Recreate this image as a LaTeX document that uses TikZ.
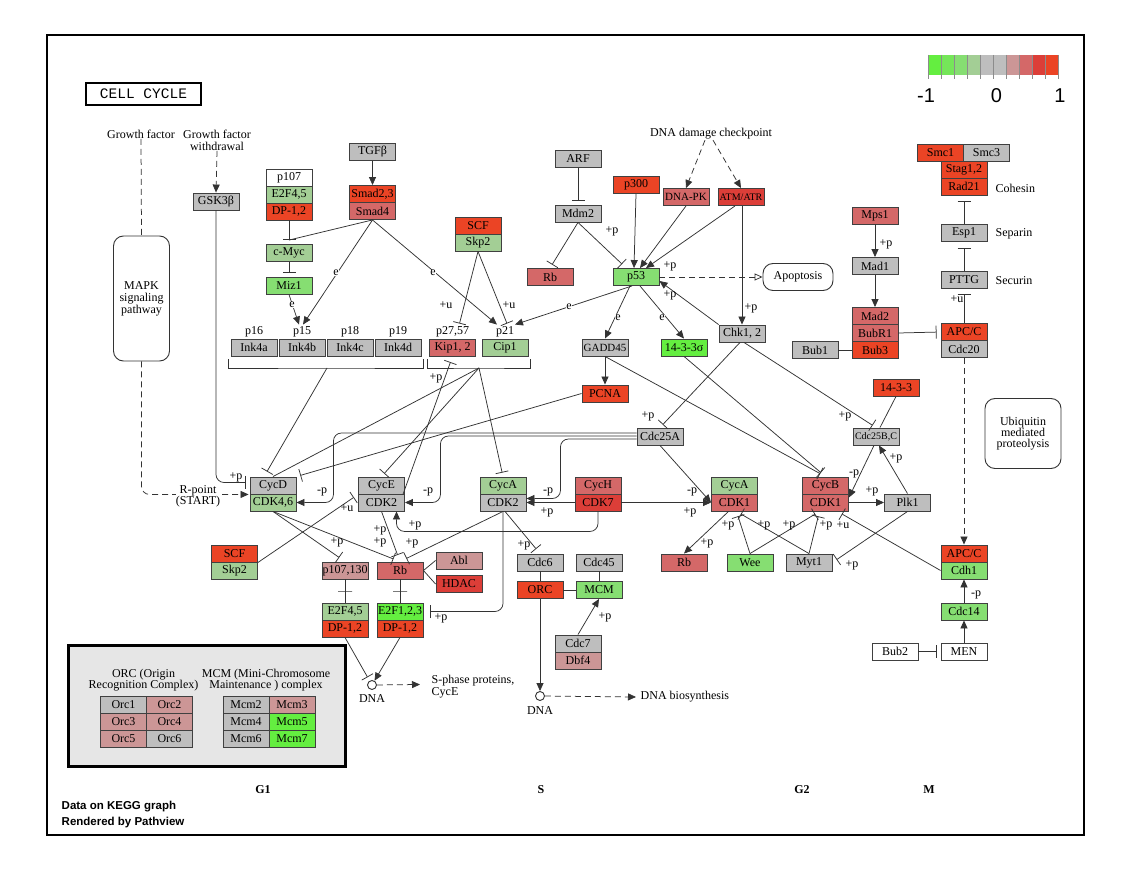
\documentclass[tikz,border=0pt]{standalone}
\usepackage{fontspec}
\setmainfont{Liberation Serif}
\setsansfont{Liberation Sans}
\setmonofont{Liberation Mono}
\usepackage{tikz}
\usetikzlibrary{arrows.meta,calc,positioning}
\definecolor{UpHigh}{RGB}{235,68,37}
\definecolor{UpMidB}{RGB}{220,62,56}
\definecolor{UpMid}{RGB}{212,104,104}
\definecolor{UpLow}{RGB}{204,150,150}
\definecolor{NoChg}{RGB}{190,190,190}
\definecolor{DnLow}{RGB}{163,206,149}
\definecolor{DnMid}{RGB}{134,222,114}
\definecolor{DnHighB}{RGB}{117,230,89}
\definecolor{DnHigh}{RGB}{100,238,64}
\definecolor{KeyGray}{RGB}{230,230,230}
\newcommand{\keggfont}{\fontsize{12}{12}\selectfont}
\tikzset{
  gene/.style={draw=black!75, line width=0.9pt, fill=#1, minimum width=46pt,
    minimum height=17pt, inner sep=0pt, font=\keggfont},
  gsq/.style={gene=#1, font=\fontsize{11}{11}\selectfont},
  gsqq/.style={gene=#1, font=\fontsize{10}{10}\selectfont},
  txt/.style={inner sep=0.5pt, font=\keggfont},
  elbl/.style={fill=white, inner sep=0.3pt, font=\keggfont},
  conn/.style={draw=black!80, line width=0.75pt},
  act/.style={conn, -{Triangle[length=8pt,width=7pt]}},
  inh/.style={conn, -{Bar[width=13pt]}, shorten >=4pt},
  inhx/.style={conn, -{Bar[width=13pt]}},
  bind/.style={conn},
  indir/.style={conn, dash pattern=on 6pt off 4pt},
  tbar/.style={draw=black!80, line width=0.75pt, minimum width=14pt,
    minimum height=0pt, inner sep=0pt, outer sep=0pt},
  dna/.style={circle, draw=black!80, line width=0.9pt, fill=white,
    minimum size=9pt, inner sep=0pt},
  pathbox/.style={draw=black!80, line width=0.9pt, rounded corners=10pt,
    align=center, font=\fontsize{12}{12}\selectfont}
}

\begin{document}
\begin{tikzpicture}[x=1pt,y=-1pt]
\fill[white] (0,0) rectangle (1136,874);
\useasboundingbox (0,0) rectangle (1136,874);
\draw[line width=1.2pt] (47,35) rectangle (1084,835);

% title and colour key
\node[draw, line width=2.6pt, minimum width=115pt, minimum height=22pt, inner sep=0pt,
  font=\ttfamily\fontsize{14.5}{14.5}\selectfont] (title) at (143.5,94) {CELL CYCLE};
\foreach \c [count=\i from 0] in {DnHigh,DnHighB,DnMid,DnLow,NoChg,NoChg,UpLow,UpMid,UpMidB,UpHigh}
  \fill[\c] (928+13*\i,55) rectangle (941+13*\i,75);
\foreach \i in {0,...,10}
  \draw[black!45, line width=0.6pt] (928+13*\i,55) -- (928+13*\i,79);
\node[font=\sffamily\fontsize{20}{20}\selectfont] (keymin) at (926,96) {-1};
\node[font=\sffamily\fontsize{20}{20}\selectfont] (keymid) at (996.5,96) {0};
\node[font=\sffamily\fontsize{20}{20}\selectfont] (keymax) at (1060,96) {1};

% upstream signals
\node[txt] (gf) at (141,134) {Growth factor};
\node[txt, align=center, font=\fontsize{12}{12}\selectfont] (gfw) at (217,140) {Growth factor\\withdrawal};
\node[txt] (ddc) at (711,134) {DNA damage checkpoint};
\node[pathbox, minimum width=56pt, minimum height=125pt] (mapk) at (141.5,298.5) {MAPK\\signaling\\pathway};
\node[pathbox, minimum width=70pt, minimum height=27pt] (apop) at (798,277) {Apoptosis};
\node[pathbox, minimum width=76pt, minimum height=70pt, font=\fontsize{12}{11}\selectfont] (ubiq) at (1023,433.5) {Ubiquitin\\mediated\\proteolysis};

% G1 regulators
\node[gene=NoChg] (gsk3b) at (216,201.5) {GSK3β};
\node[gene=white] (p107) at (289,177.5) {p107};
\node[gene=DnLow] (e2f45a) at (289,194.5) {E2F4,5};
\node[gene=UpHigh] (dp12a) at (289,211.5) {DP-1,2};
\node[gene=DnLow] (cmyc) at (289,253) {c-Myc};
\node[gene=DnMid] (miz1) at (289,285.5) {Miz1};
\node[gene=NoChg] (tgfb) at (372.5,152) {TGFβ};
\node[gene=UpHigh] (smad23) at (372.5,194) {Smad2,3};
\node[gene=UpMid] (smad4) at (372.5,211) {Smad4};
\node[gene=UpHigh] (scfa) at (478,225.5) {SCF};
\node[gene=DnLow] (skp2a) at (478,242.5) {Skp2};
\node[gene=NoChg] (ink4a) at (254,347.5) {Ink4a};
\node[gene=NoChg] (ink4b) at (302,347.5) {Ink4b};
\node[gene=NoChg] (ink4c) at (350,347.5) {Ink4c};
\node[gene=NoChg] (ink4d) at (398,347.5) {Ink4d};
\node[gene=UpMid] (kip12) at (452.5,347.5) {Kip1, 2};
\node[gene=DnLow] (cip1) at (505,347.5) {Cip1};
\foreach \n/\x/\t in {lp16/254/p16, lp15/302/p15, lp18/350/p18, lp19/398/p19, lp27/452.5/{p27,57}, lp21/505/p21}
  \node[txt] (\n) at (\x,332) {\t};
\coordinate (inkstem) at (327,368);
\coordinate (cipstem) at (479,368);

% p53 module
\node[gene=NoChg] (arf) at (578,159) {ARF};
\node[gene=NoChg] (mdm2) at (578,213.5) {Mdm2};
\node[gene=UpMid] (rbp) at (550,277) {Rb};
\node[gene=UpHigh] (p300) at (636,185) {p300};
\node[gsq=UpMid] (dnapk) at (686,197) {DNA-PK};
\node[gsqq=UpMidB] (atmatr) at (741,197) {ATM/ATR};
\node[gene=DnMid] (p53) at (636,277) {p53};
\node[gsq=NoChg] (gadd45) at (605,347.5) {GADD45};
\node[gene=DnHigh] (s1433) at (684,347.5) {14-3-3σ};
\node[gene=NoChg] (chk12) at (742,333.5) {Chk1, 2};
\node[gene=UpHigh] (pcna) at (605,393.5) {PCNA};
\node[gene=NoChg] (cdc25a) at (660,436.5) {Cdc25A};

% spindle checkpoint and cohesin
\node[gene=UpMid] (mps1) at (875,215.5) {Mps1};
\node[gene=NoChg] (mad1) at (875,266) {Mad1};
\node[gene=UpMid] (mad2) at (875,316) {Mad2};
\node[gene=UpMid] (bubr1) at (875,333) {BubR1};
\node[gene=UpHigh] (bub3) at (875,350) {Bub3};
\node[gene=NoChg] (bub1) at (815,350) {Bub1};
\node[gene=UpHigh] (smc1) at (940.5,152.5) {Smc1};
\node[gene=NoChg] (smc3) at (986.5,152.5) {Smc3};
\node[gene=UpHigh] (stag12) at (964,169.5) {Stag1,2};
\node[gene=UpHigh] (rad21) at (964,186.5) {Rad21};
\node[gene=NoChg] (esp1) at (964,233) {Esp1};
\node[gene=NoChg] (pttg) at (964,279.5) {PTTG};
\node[gene=UpHigh] (apcc1) at (964,332) {APC/C};
\node[gene=NoChg] (cdc20) at (964,349) {Cdc20};
\node[txt, anchor=west] (cohesin) at (995,188) {Cohesin};
\node[txt, anchor=west] (separin) at (995,234) {Separin};
\node[txt, anchor=west] (securin) at (995,281) {Securin};
\node[gene=UpHigh] (t1433) at (896,387.5) {14-3-3};
\node[gsqq=NoChg] (cdc25bc) at (876,436.5) {Cdc25B,C};

% cyclin / CDK complexes
\node[gene=NoChg] (cycd) at (273,485.5) {CycD};
\node[gene=DnLow] (cdk46) at (273,502.5) {CDK4,6};
\node[gene=NoChg] (cyce) at (381.5,485.5) {CycE};
\node[gene=NoChg] (cdk2e) at (381.5,502.5) {CDK2};
\node[gene=DnLow] (cyca2) at (503,485.5) {CycA};
\node[gene=NoChg] (cdk2a) at (503,502.5) {CDK2};
\node[gene=UpMid] (cych) at (598,485.5) {CycH};
\node[gene=UpMidB] (cdk7) at (598,502.5) {CDK7};
\node[gene=DnLow] (cyca1) at (734.5,485.5) {CycA};
\node[gene=UpMid] (cdk1a) at (734.5,502.5) {CDK1};
\node[gene=UpMid] (cycb) at (825.5,485.5) {CycB};
\node[gene=UpMid] (cdk1b) at (825.5,502.5) {CDK1};
\node[gene=NoChg] (plk1) at (907.5,502.5) {Plk1};

% targets
\node[gene=UpHigh] (scfb) at (234.5,553.5) {SCF};
\node[gene=DnLow] (skp2b) at (234.5,570.5) {Skp2};
\node[gene=UpLow] (p107130) at (345,570.5) {p107,130};
\node[gene=UpMid] (rbg1) at (400,570.5) {Rb};
\node[gene=UpLow] (abl) at (459,560.5) {Abl};
\node[gene=UpMidB] (hdac) at (459,584) {HDAC};
\node[gene=DnLow] (e2f45b) at (345,611.5) {E2F4,5};
\node[gene=UpHigh] (dp12b) at (345,628.5) {DP-1,2};
\node[gene=DnHigh] (e2f123) at (400,611.5) {E2F1,2,3};
\node[gene=UpHigh] (dp12c) at (400,628.5) {DP-1,2};
\node[gene=NoChg] (cdc6) at (540,562.5) {Cdc6};
\node[gene=NoChg] (cdc45) at (599,562.5) {Cdc45};
\node[gene=UpHigh] (orc) at (540,590) {ORC};
\node[gene=DnMid] (mcm) at (599,590) {MCM};
\node[gene=NoChg] (cdc7) at (578,643.5) {Cdc7};
\node[gene=UpLow] (dbf4) at (578,660.5) {Dbf4};
\node[gene=UpMid] (rbg2) at (684,562.5) {Rb};
\node[gene=DnMid] (wee) at (750,562.5) {Wee};
\node[gene=NoChg] (myt1) at (809,562.5) {Myt1};
\node[gene=UpHigh] (apcc2) at (964,553.5) {APC/C};
\node[gene=DnMid] (cdh1) at (964,570.5) {Cdh1};
\node[gene=DnMid] (cdc14) at (964,611.5) {Cdc14};
\node[gene=white] (men) at (964,651.5) {MEN};
\node[gene=white] (bub2) at (895,651.5) {Bub2};
\node[dna] (dnag1) at (372,685) {};
\node[txt] (dnalab1) at (372,699) {DNA};
\node[dna] (dnas) at (540,696) {};
\node[txt] (dnalab2) at (540,711) {DNA};
\node[txt, anchor=west, align=left, font=\fontsize{12}{12.5}\selectfont] (sphase) at (431,686.5) {S-phase proteins,\\CycE};
\node[txt, anchor=west] (dnabio) at (640,697) {DNA biosynthesis};

% brackets
\draw[bind] ([xshift=-2pt,yshift=-3pt]ink4a.south west) |- (inkstem) -| ([xshift=2pt,yshift=-3pt]ink4d.south east);
\draw[bind] ([xshift=-2pt,yshift=-3pt]kip12.south west) |- (cipstem) -| ([xshift=2pt,yshift=-3pt]cip1.south east);

% signal input
\draw[indir] (gf.south) -- (mapk.north);
\draw[indir, -{Triangle[length=8pt,width=7pt]}, rounded corners=8pt] (mapk.south) |- ([xshift=-1pt]cycd.south west);
\draw[indir, -{Triangle[length=8pt,width=7pt]}] (gfw.south) -- (gsk3b.north);
\draw[inh, rounded corners=8pt] (gsk3b.south) |- ([yshift=3pt]cycd.west);
\draw[inh] (dp12a.south) -- (cmyc.north);
\draw[bind] (smad4.south) -- ([yshift=4pt]cmyc.north);
\draw[inh] (cmyc.south) -- (miz1.north);
\draw[act] (tgfb.south) -- (smad23.north);
\draw[act] (miz1.south) -- ([xshift=-3pt,yshift=14pt]ink4b.north);
\draw[act] (smad4.south) -- ([xshift=1pt,yshift=14pt]ink4b.north);
\draw[act] (smad4.south) -- ([xshift=-8pt,yshift=14pt]cip1.north);
\draw[inhx] (skp2a.south) -- ([xshift=7pt,yshift=15pt]kip12.north);
\draw[inhx] (skp2a.south) -- ([xshift=2pt,yshift=15pt]cip1.north);

% p53 module
\draw[indir, -{Triangle[length=8pt,width=7pt]}] ([xshift=-6pt]ddc.south) -- (dnapk.north);
\draw[indir, -{Triangle[length=8pt,width=7pt]}] ([xshift=2pt]ddc.south) -- (atmatr.north);
\draw[inh] (arf.south) -- (mdm2.north);
\draw[inh] (mdm2.south) -- (rbp.north);
\draw[inhx] (mdm2.south) -- ([xshift=-14pt,yshift=4pt]p53.north);
\draw[act] (p300.south) -- ([xshift=-2pt]p53.north);
\draw[act] (dnapk.south) -- ([xshift=4pt]p53.north);
\draw[act] ([xshift=-6pt]atmatr.south) -- ([xshift=10pt]p53.north);
\draw[act] ([xshift=1pt]atmatr.south) -- (chk12.north);
\draw[act] (chk12.north west) -- ([yshift=-4pt]p53.east);
\draw[indir, -{Triangle[open,length=8pt,width=7pt]}] (p53.east) -- (apop.west);
\draw[act] ([xshift=-4pt]p53.south) -- ([xshift=10pt,yshift=14pt]cip1.north);
\draw[act] ([xshift=-6pt]p53.south) -- (gadd45.north);
\draw[act] ([xshift=4pt]p53.south) -- (s1433.north);
\draw[act] (gadd45.south) -- (pcna.north);
\draw[inh, shorten >=6pt] (gadd45.south) -- (cycb.north);
\draw[inh, shorten >=6pt] (s1433.south) -- (cycb.north);
\draw[inh] ([xshift=-2pt]chk12.south) -- (cdc25a.north);
\draw[inh] ([xshift=2pt]chk12.south) -- (cdc25bc.north);
\draw[bind] (t1433.south) -- ([xshift=4pt]cdc25bc.north);

% CDK inhibitors
\draw[inhx] (inkstem) -- ([xshift=-6pt,yshift=5pt]cycd.north);
\draw[bind] (cipstem) -- (cycd.north);
\draw[inh] (pcna.west) -- (cycd.north east);
\draw[inh] (cipstem) -- (cyce.north);
\draw[inh] (cipstem) -- (cyca2.north);
\draw[inh, shorten >=6pt] ([xshift=-2pt]cyce.south east) -- (kip12.south);
\draw[inh, shorten >=5pt] (scfb.south east) -- (cyce.south west);

% CDK activation
\draw[act, rounded corners=8pt] ([yshift=3.5pt]cdc25a.west) -| ([xshift=37pt]cdk46.east) -- (cdk46.east);
\draw[act, rounded corners=8pt] ([yshift=0.5pt]cdc25a.west) -| ([xshift=35.5pt]cdk2e.east) -- (cdk2e.east);
\draw[act, rounded corners=8pt] ([yshift=-2.5pt]cdc25a.west) -| ([xshift=34pt,yshift=4pt]cdk2a.east) -- ([yshift=4pt]cdk2a.east);
\draw[act] (cdk7.west) -- (cdk2a.east);
\draw[act, rounded corners=8pt] (cdk7.south) |- ([xshift=15pt,yshift=-20pt]cdk2e.south) -- ([xshift=15pt]cdk2e.south);
\draw[act] (cdc25a.south) -- (cdk1a.west);
\draw[act] (cdk7.east) -- (cdk1a.west);
\draw[act] ([xshift=-2pt]cdc25bc.south) -- ([yshift=5pt]cdk1b.east);
\draw[act] (plk1.north) -- ([xshift=3pt]cdc25bc.south);
\draw[act] (cdk1b.east) -- (plk1.west);
\draw[inh, shorten >=5pt] (plk1.south) -- (myt1.east);
\draw[inh, shorten >=5pt] (cdh1.west) -- ([xshift=12pt]cdk1b.south);
\draw[inh, shorten >=5pt] (wee.north) -- ([xshift=2pt]cdk1a.south);
\draw[inh, shorten >=5pt] (wee.north) -- ([xshift=-6pt]cdk1b.south);
\draw[inh, shorten >=5pt] (myt1.north) -- ([xshift=2pt]cdk1a.south);
\draw[inh, shorten >=5pt] (myt1.north) -- ([xshift=-6pt]cdk1b.south);
\draw[act] ([xshift=-6pt]cdk1a.south) -- (rbg2.north);

% Rb / E2F and replication
\draw[inh, shorten >=7pt] (cdk46.south) -- (p107130.north);
\draw[inh, shorten >=7pt] (cdk46.south) -- (rbg1.north);
\draw[inh, shorten >=7pt] (cdk2e.south) -- (rbg1.north);
\draw[inh, shorten >=7pt] (cdk2a.south) -- (rbg1.north);
\draw[inh, shorten >=6pt] ([xshift=2pt]cdk2a.south) -- (cdc6.north);
\draw[inh, shorten >=7pt, rounded corners=8pt] (cdk2a.south) |- (e2f123.east);
\draw[bind] (rbg1.east) -- (abl.west);
\draw[bind] (rbg1.east) -- (hdac.west);
\draw[bind] (p107130.south) -- node[tbar] (bar1) {} (e2f45b.north);
\draw[bind] (rbg1.south) -- node[tbar] (bar2) {} (e2f123.north);
\draw[inh] (dp12b.south) -- (dnag1);
\draw[act] (dp12c.south) -- (dnag1);
\draw[indir, -{Triangle[length=8pt,width=7pt]}] (dnag1) -- ([xshift=-11pt,yshift=2pt]sphase.west);
\draw[bind] (cdc6) -- (orc);
\draw[bind] (cdc45) -- (mcm);
\draw[bind] (orc) -- (mcm);
\draw[act] (cdc7.north) -- (mcm.south);
\draw[act] (orc.south) -- (dnas);
\draw[indir, -{Triangle[length=8pt,width=7pt]}] (dnas) -- ([xshift=-4pt]dnabio.west);

% mitosis
\draw[act] (mps1) -- (mad1);
\draw[act] (mad1) -- (mad2);
\draw[bind] (bub1) -- (bub3);
\draw[inh] (bubr1.east) -- (apcc1.west);
\draw[inh, shorten >=6pt] (esp1.north) -- (rad21.south);
\draw[inh, shorten >=6pt] (pttg.north) -- (esp1.south);
\draw[inh, shorten >=6pt] (apcc1.north) -- (pttg.south);
\draw[indir, -{Triangle[length=8pt,width=7pt]}] (cdc20.south) -- (apcc2.north);
\draw[act] (cdc14) -- (cdh1);
\draw[act] (men) -- (cdc14);
\draw[inh] (bub2) -- (men);

% edge labels
\node[elbl, font=\fontsize{12}{11}\selectfont, align=center] (rpoint) at (198,496) {R-point\\(START)};
\foreach \x/\y [count=\i] in {292/305, 336/273, 433/273, 569/307, 618/318, 662/318}
  \node[elbl] (e\i) at (\x,\y) {e};
\foreach \x/\y/\t [count=\i] in {236/477/+p, 446/305/+u, 509/305/+u, 612/231/+p, 670/266/+p,
    670/295/+p, 751/308/+p, 648/416/+p, 845/416/+p, 436/378/+p, 322/492/-p, 347/508/+u,
    428/492/-p, 415/525/+p, 548/492/-p, 547/512/+p, 380/530/+p, 380/542/+p, 412/543/+p,
    337/542/+p, 524/545/+p, 441/618/+p, 692/492/-p, 690/512/+p, 728/525/+p, 707/543/+p,
    764/525/+p, 789/525/+p, 826/525/+p, 843/525/+u, 854/474/-p, 872/491/+p, 896/458/+p,
    852/565/+p, 886/244/+p, 957/299/+u, 976/595/-p, 605/617/+p}
  \node[txt] (pl\i) at (\x,\y) {\t};

% complex key
\node[draw, line width=3pt, fill=KeyGray, minimum width=277pt, minimum height=121pt, inner sep=0pt] (keybox) at (206.5,705.5) {};
\node[txt, align=center, font=\fontsize{12}{11}\selectfont] (orckey) at (143.5,680) {ORC (Origin\\Recognition Complex)};
\node[txt, align=center, font=\fontsize{12}{11}\selectfont] (mcmkey) at (266,680) {MCM (Mini-Chromosome\\Maintenance ) complex};
\foreach \t/\c/\x/\y in {Orc1/NoChg/123.5/704.5, Orc2/UpLow/169.5/704.5, Orc3/UpLow/123.5/721.5,
    Orc4/UpLow/169.5/721.5, Orc5/UpLow/123.5/738.5, Orc6/NoChg/169.5/738.5,
    Mcm2/NoChg/246/704.5, Mcm3/UpLow/292/704.5, Mcm4/NoChg/246/721.5,
    Mcm5/DnHigh/292/721.5, Mcm6/NoChg/246/738.5, Mcm7/DnHigh/292/738.5}
  \node[gene=\c] (\t) at (\x,\y) {\t};

% phases and footer
\foreach \t/\x in {G1/263, S/541, G2/802, M/929}
  \node[txt, font=\bfseries\fontsize{12}{12}\selectfont] (ph\t) at (\x,790) {\t};
\node[txt, anchor=west, font=\sffamily\bfseries\fontsize{11.5}{12}\selectfont] (foot1) at (61,807) {Data on KEGG graph};
\node[txt, anchor=west, font=\sffamily\bfseries\fontsize{11.5}{12}\selectfont] (foot2) at (61,823) {Rendered by Pathview};
\end{tikzpicture}
\end{document}
